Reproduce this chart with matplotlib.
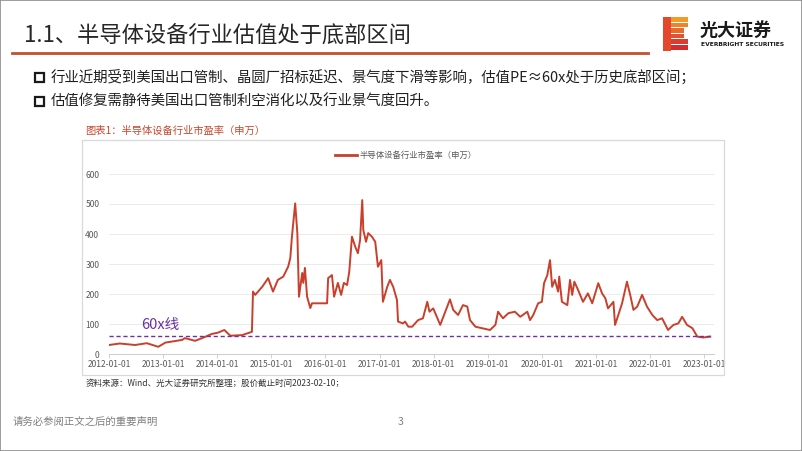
import matplotlib
matplotlib.use("Agg")
import matplotlib.pyplot as plt
import matplotlib.dates as mdates
from matplotlib.patches import Rectangle
from matplotlib.lines import Line2D
import pandas as pd

plt.rcParams["font.family"] = ["Noto Sans CJK SC", "DejaVu Sans"]
plt.rcParams["axes.unicode_minus"] = False

# %% data (decimal year, PE)
pe_years = [
    2012.00, 2012.20, 2012.48, 2012.70, 2012.91, 2013.04, 2013.35, 2013.40,
    2013.59, 2013.72, 2013.90, 2014.01, 2014.13, 2014.24, 2014.46, 2014.64,
    2014.66, 2014.70, 2014.83, 2014.94, 2015.03, 2015.12, 2015.22, 2015.31,
    2015.35, 2015.38, 2015.44, 2015.48, 2015.51, 2015.57, 2015.59, 2015.62,
    2015.66, 2015.72, 2015.75, 2016.03, 2016.05, 2016.12, 2016.16, 2016.23,
    2016.29, 2016.34, 2016.40, 2016.44, 2016.49, 2016.55, 2016.60, 2016.64,
    2016.68, 2016.70, 2016.75, 2016.79, 2016.86, 2016.92, 2016.97, 2017.03,
    2017.06, 2017.14, 2017.19, 2017.25, 2017.32, 2017.34, 2017.43, 2017.47,
    2017.53, 2017.60, 2017.71, 2017.80, 2017.88, 2017.92, 2017.99, 2018.12,
    2018.25, 2018.30, 2018.36, 2018.45, 2018.54, 2018.62, 2018.67, 2018.77,
    2018.89, 2019.04, 2019.14, 2019.19, 2019.28, 2019.38, 2019.50, 2019.60,
    2019.73, 2019.78, 2019.84, 2019.93, 2020.00, 2020.04, 2020.10, 2020.15,
    2020.19, 2020.24, 2020.30, 2020.32, 2020.37, 2020.47, 2020.52, 2020.56,
    2020.60, 2020.67, 2020.76, 2020.85, 2020.93, 2021.04, 2021.11, 2021.17,
    2021.22, 2021.32, 2021.35, 2021.48, 2021.57, 2021.63, 2021.69, 2021.76,
    2021.85, 2021.94, 2022.04, 2022.13, 2022.22, 2022.33, 2022.43, 2022.52,
    2022.59, 2022.68, 2022.78, 2022.87, 2022.98, 2023.11,
]
pe_values = [
    30, 35, 30, 36, 24, 38, 47, 53,
    44, 53, 67, 71, 80, 61, 63, 74,
    208, 197, 224, 253, 208, 247, 258, 291,
    320, 391, 502, 403, 191, 270, 237, 287,
    191, 153, 169, 169, 253, 263, 191, 237,
    197, 237, 230, 274, 391, 358, 336, 380,
    513, 413, 374, 403, 391, 374, 291, 313,
    174, 224, 247, 224, 180, 108, 102, 108,
    91, 91, 113, 119, 174, 141, 152, 97,
    158, 182, 147, 130, 163, 158, 113, 91,
    86, 80, 97, 141, 119, 136, 141, 124,
    141, 113, 130, 169, 174, 236, 263, 313,
    224, 247, 208, 258, 174, 163, 247, 197,
    241, 213, 174, 202, 169, 236, 202, 186,
    152, 174, 97, 169, 241, 197, 147, 158,
    197, 158, 130, 113, 119, 80, 97, 102,
    124, 97, 86, 58, 55, 58,
]
pe_line = 60
y_ticks = [0, 100, 200, 300, 400, 500, 600]
tick_years = list(range(2012, 2024))

title = "1.1、半导体设备行业估值处于底部区间"
bullets = [
    "行业近期受到美国出口管制、晶圆厂招标延迟、景气度下滑等影响，估值PE≈60x处于历史底部区间；",
    "估值修复需静待美国出口管制利空消化以及行业景气度回升。",
]
caption = "图表1：半导体设备行业市盈率（申万）"
series_name = "半导体设备行业市盈率（申万）"
source = "资料来源：Wind、光大证券研究所整理；股价截止时间2023-02-10；"
footer = "请务必参阅正文之后的重要声明"


def to_date(y):
    year = int(y)
    return pd.Timestamp(year, 1, 1) + pd.Timedelta(days=(y - year) * 365.25)


dates = [to_date(y) for y in pe_years]

W, H = 802, 451
fig = plt.figure(figsize=(W / 100, H / 100), dpi=100)


def fx(x):
    return x / W


def fy(y):
    return 1 - y / H


# %% slide decorations
fig.add_artist(Rectangle((0, 0), 1, 1, transform=fig.transFigure, fill=False,
                         edgecolor="#8c8c8c", lw=1.2))
fig.text(fx(24), fy(36), title, fontsize=16, color="#262626", va="center", ha="left")
fig.add_artist(Line2D([fx(12), fx(648)], [fy(53), fy(53)], color="#C0532F", lw=2))

# logo: striped B
stripe_cols = ["#F39A2B", "#F08229", "#EC6A2B", "#E6512C", "#DE3A2D", "#D52A2E"]
for i, c in enumerate(stripe_cols):
    top = 17 + i * 5.6
    wid = 25 if i not in (2, 3) else 21
    fig.add_artist(Rectangle((fx(663), fy(top + 4.6)), wid / W, 4.6 / H,
                             transform=fig.transFigure, color=c, lw=0))
fig.add_artist(Rectangle((fx(663), fy(51)), 8 / W, 34 / H,
                         transform=fig.transFigure, color="#E4472C", lw=0))
fig.text(fx(700), fy(30), "光大证券", fontsize=13, fontweight="bold",
         color="#1a1a1a", va="center", ha="left")
fig.text(fx(701), fy(45), "EVERBRIGHT SECURITIES", fontsize=4.3, fontweight="bold",
         color="#1a1a1a", va="center", ha="left", family="DejaVu Sans")

# bullets
for i, b in enumerate(bullets):
    yc = 77 + i * 24
    fig.add_artist(Rectangle((fx(35), fy(yc + 4.5)), 9 / W, 9 / H,
                             transform=fig.transFigure, fill=False,
                             edgecolor="#1a1a1a", lw=1.6))
    fig.text(fx(51), fy(yc), b, fontsize=10.4, color="#1f1f1f", va="center", ha="left")

# chart frame and caption
fig.add_artist(Rectangle((fx(82), fy(375)), (724 - 82) / W, (375 - 140) / H,
                         transform=fig.transFigure, fill=False,
                         edgecolor="#d9d9d9", lw=0.9))
fig.text(fx(85), fy(131), caption, fontsize=7.4, color="#C8462D", va="center", ha="left")
fig.text(fx(86), fy(383), source, fontsize=6.1, color="#333333", va="center", ha="left")
fig.text(fx(13), fy(422), footer, fontsize=7.5, color="#7f7f7f", va="center", ha="left")
fig.text(fx(401), fy(422), "3", fontsize=7.5, color="#7f7f7f", va="center", ha="center")

# legend
fig.add_artist(Line2D([fx(335), fx(357)], [fy(155), fy(155)], color="#C8402C", lw=2))
fig.text(fx(360), fy(155), series_name, fontsize=6, color="#595959", va="center", ha="left")

# %% the chart
ax = fig.add_axes([fx(109), fy(354), (714 - 109) / W, (354 - 174) / H])
ax.plot(dates, pe_values, color="#C8402C", lw=1.4, zorder=3)
ax.plot([dates[0], dates[-1]], [pe_line, pe_line], color="#7030A0", lw=1,
        linestyle=(0, (3, 2)), zorder=4)
ax.text(to_date(2012.94), 97, "60x线", fontsize=10.5, color="#6A2FA3",
        ha="center", va="center")

ax.set_ylim(0, 600)
ax.set_xlim(to_date(2012.0), to_date(2023.18))
ax.set_yticks(y_ticks)
ax.set_xticks([pd.Timestamp(y, 1, 1) for y in tick_years])
ax.xaxis.set_major_formatter(mdates.DateFormatter("%Y-%m-%d"))
ax.grid(axis="y", color="#ebebeb", lw=0.7)
ax.set_axisbelow(True)
for s in ["top", "right", "left"]:
    ax.spines[s].set_visible(False)
ax.spines["bottom"].set_color("#d0d0d0")
ax.tick_params(axis="y", length=0, pad=7, labelsize=6.1, labelcolor="#595959")
ax.tick_params(axis="x", length=3, width=0.7, color="#d0d0d0", pad=1.5,
               labelsize=6.1, labelcolor="#595959")
# clip the last date label at the frame like the original
for lab in ax.get_xticklabels():
    lab.set_clip_on(True)
    lab.set_clip_box(fig.transFigure.transform_bbox(
        matplotlib.transforms.Bbox([[fx(82), fy(375)], [fx(724), fy(140)]])))

fig.savefig("out.png", dpi=100)
